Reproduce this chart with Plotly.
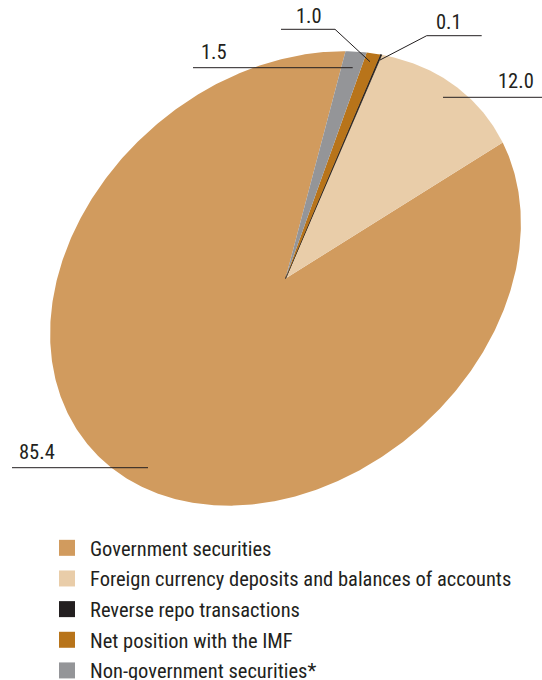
import numpy as np
import plotly.graph_objects as go

# ---- data ----
labels = [
    "Government securities",
    "Foreign currency deposits and balances of accounts",
    "Reverse repo transactions",
    "Net position with the IMF",
    "Non-government securities*",
]
values = [85.4, 12.0, 0.1, 1.0, 1.5]
value_text = ["85.4", "12.0", "0.1", "1.0", "1.5"]
colors = ["#D19B5E", "#E9CDA9", "#231F20", "#B8741A", "#949598"]

# ---- style / geometry (tilted elliptical pie, pixel-like axes) ----
W, H = 542, 680
CX, CY = 285.5, 278.5
A_SEMI, B_SEMI, TILT = 258.2, 200.9, 40.85   # ellipse semi-axes and tilt (deg)
START = 41.3                                  # start angle of first slice (deg)
FONT = "Roboto Condensed, Roboto, sans-serif"
INK = "#231F20"


def ellipse_pts(t_deg):
    t = np.radians(t_deg)
    phi = np.radians(TILT)
    xm = A_SEMI * np.cos(t)
    ym = B_SEMI * np.sin(t)
    x = xm * np.cos(phi) - ym * np.sin(phi)
    y = xm * np.sin(phi) + ym * np.cos(phi)
    return CX + x, CY - y


fig = go.Figure()
total = sum(values)
angle = START
for lab, val, col in zip(labels, values, colors):
    span = 360.0 * val / total
    n = max(4, int(span * 2))
    ts = np.linspace(angle, angle + span, n)
    ex, ey = ellipse_pts(ts)
    xs = np.concatenate([[CX], ex, [CX]])
    ys = np.concatenate([[CY], ey, [CY]])
    fig.add_trace(go.Scatter(
        x=xs, y=ys, mode="lines", fill="toself", fillcolor=col,
        line=dict(color=col, width=0.8 if val < 0.5 else 0),
        name=lab, showlegend=False, hoverinfo="name",
    ))
    angle += span

# legend-only entries
for i, (lab, col) in enumerate(zip(labels, colors)):
    fig.add_trace(go.Scatter(
        x=[None], y=[None], mode="markers",
        marker=dict(symbol="square", size=16, color=col),
        name=lab, legendgroup=f"g{i}",
    ))

# ---- value labels with leader lines ----
label_pos = {  # text anchor x, y, xanchor
    "1.5": (199, 52, "left"),
    "1.0": (294, 16, "left"),
    "0.1": (464, 22, "right"),
    "12.0": (536, 81, "right"),
    "85.4": (17, 452, "left"),
}
leaders = {
    "1.5": [(193, 67.7), (352.7, 67.7)],
    "1.0": [(281, 29.3), (335, 29.3), (370, 61.7)],
    "0.1": [(481.7, 35.7), (426.7, 35.7), (380, 60)],
    "12.0": [(443, 97.3), (542, 97.3)],
    "85.4": [(12, 467.7), (148, 467.7)],
}
for txt in value_text:
    x, y, xa = label_pos[txt]
    fig.add_annotation(x=x, y=y, text=txt, showarrow=False, xanchor=xa,
                       yanchor="middle", xref="x", yref="y",
                       font=dict(family=FONT, size=20.5, color=INK))
    pts = leaders[txt]
    path = "M" + " L".join(f"{px},{py}" for px, py in pts)
    fig.add_shape(type="path", path=path, xref="x", yref="y",
                  line=dict(color=INK, width=1))

fig.update_layout(
    width=W, height=H,
    margin=dict(l=0, r=0, t=0, b=0, autoexpand=False),
    paper_bgcolor="white", plot_bgcolor="white",
    xaxis=dict(range=[0, W], visible=False, fixedrange=True),
    yaxis=dict(range=[H, 0], visible=False, fixedrange=True),
    showlegend=True,
    legend=dict(
        x=44 / W, y=1 - 528 / H, xanchor="left", yanchor="top",
        font=dict(family=FONT, size=20.5, color=INK),
        tracegroupgap=1, itemwidth=36, bgcolor="rgba(0,0,0,0)",
    ),
)

fig.write_html("out.html")
